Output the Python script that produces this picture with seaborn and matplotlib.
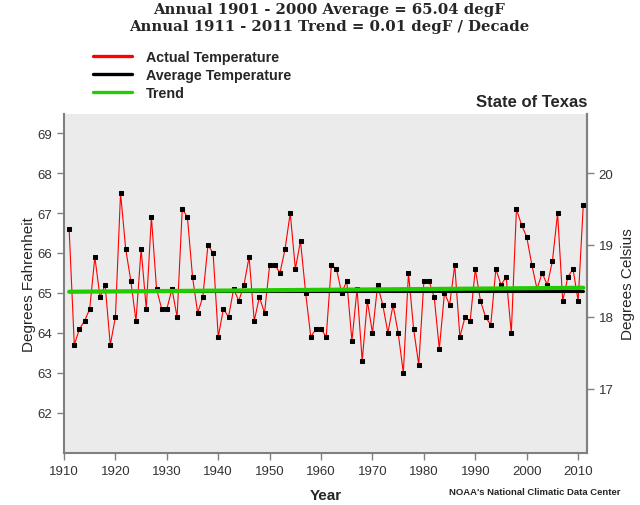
import numpy as np
import pandas as pd
import seaborn as sns
import matplotlib.pyplot as plt

# Texas annual mean temperature, degF
years = list(range(1911, 2012))
temps = [
    66.6, 63.7, 64.1, 64.3, 64.6, 65.9, 64.9, 65.2, 63.7, 64.4,  # 1911-1920
    67.5, 66.1, 65.3, 64.3, 66.1, 64.6, 66.9, 65.1, 64.6, 64.6,  # 1921-1930
    65.1, 64.4, 67.1, 66.9, 65.4, 64.5, 64.9, 66.2, 66.0, 63.9,  # 1931-1940
    64.6, 64.4, 65.1, 64.8, 65.2, 65.9, 64.3, 64.9, 64.5, 65.7,  # 1941-1950
    65.7, 65.5, 66.1, 67.0, 65.6, 66.3, 65.0, 63.9, 64.1, 64.1,  # 1951-1960
    63.9, 65.7, 65.6, 65.0, 65.3, 63.8, 65.1, 63.3, 64.8, 64.0,  # 1961-1970
    65.2, 64.7, 64.0, 64.7, 64.0, 63.0, 65.5, 64.1, 63.2, 65.3,  # 1971-1980
    65.3, 64.9, 63.6, 65.0, 64.7, 65.7, 63.9, 64.4, 64.3, 65.6,  # 1981-1990
    64.8, 64.4, 64.2, 65.6, 65.2, 65.4, 64.0, 67.1, 66.7, 66.4,  # 1991-2000
    65.7, 65.1, 65.5, 65.2, 65.8, 67.0, 64.8, 65.4, 65.6, 64.8,  # 2001-2010
    67.2,                                                        # 2011
]
avg_years = [1911, 2011]
avg_vals = [65.04, 65.04]
trend_years = [1911, 2011]
trend_vals = [65.03, 65.13]

df = pd.DataFrame({"year": years, "temp": temps})
avg_df = pd.DataFrame({"year": avg_years, "temp": avg_vals})
trend_df = pd.DataFrame({"year": trend_years, "temp": trend_vals})

sns.set_style("white")
plt.rcParams["font.family"] = ["Liberation Sans", "DejaVu Sans"]

fig = plt.figure(figsize=(6.4, 5.06), dpi=100)
ax = fig.add_axes([0.100, 0.103, 0.817, 0.670])
ax.set_facecolor("#EBEBEB")

sns.lineplot(data=df, x="year", y="temp", ax=ax, color="#FF0000", linewidth=0.8,
             marker="s", markersize=3.0, markerfacecolor="black",
             markeredgecolor="black", label="Actual Temperature", zorder=3)
sns.lineplot(data=avg_df, x="year", y="temp", ax=ax, color="black",
             linewidth=2.2, label="Average Temperature", zorder=4)
sns.lineplot(data=trend_df, x="year", y="temp", ax=ax, color="#22CC00",
             linewidth=3.0, label="Trend", zorder=5)

ax.set_xlim(1910, 2011.7)
ax.set_ylim(61.0, 69.48)
ax.set_xticks(range(1910, 2011, 10))
ax.set_yticks(range(62, 70))

gray = "#808080"
for side in ["left", "right", "bottom"]:
    ax.spines[side].set_color(gray)
    ax.spines[side].set_linewidth(1.5)
ax.spines["top"].set_visible(False)
ax.tick_params(axis="both", colors=gray, labelcolor="#333333", labelsize=9.5,
               length=5, width=1, direction="out")
ax.tick_params(axis="x", bottom=True)
ax.tick_params(axis="y", left=True)

ax.set_xlabel("Year", fontsize=11, fontweight="bold", labelpad=8)
ax.set_ylabel("Degrees Fahrenheit", fontsize=11, labelpad=1)

sec = ax.secondary_yaxis("right", functions=(lambda f: (f - 32) / 1.8,
                                             lambda c: c * 1.8 + 32))
sec.set_yticks([17, 18, 19, 20])
sec.spines["right"].set_color(gray)
sec.spines["right"].set_linewidth(1.5)
sec.tick_params(colors=gray, labelcolor="#333333", labelsize=9.5, length=5,
                width=1, direction="out")
sec.set_ylabel("Degrees Celsius", fontsize=11, rotation=90, labelpad=5)

leg = ax.legend(loc="upper left", bbox_to_anchor=(93 / 640, 0.899),
                bbox_transform=fig.transFigure, frameon=False,
                borderpad=0, borderaxespad=0,
                prop={"size": 10.3, "weight": "bold"}, handlelength=2.7,
                handletextpad=1.0, labelspacing=0.27)
for line in leg.get_lines():
    line.set_linewidth(2.4)
    line.set_marker("")

fig.text(0.514, 0.980, "Annual 1901 - 2000 Average = 65.04 degF",
         ha="center", va="center", fontsize=10.7, fontweight="bold",
         family="DejaVu Serif")
fig.text(0.514, 0.946, "Annual 1911 - 2011 Trend = 0.01 degF / Decade",
         ha="center", va="center", fontsize=10.7, fontweight="bold",
         family="DejaVu Serif")
ax.text(1.0, 1.015, "State of Texas", transform=ax.transAxes, ha="right",
        va="bottom", fontsize=12, fontweight="bold")
fig.text(0.969, 0.027, "NOAA's National Climatic Data Center", ha="right",
         va="center", fontsize=6.8, fontweight="bold")

fig.savefig("out.png", dpi=100)
